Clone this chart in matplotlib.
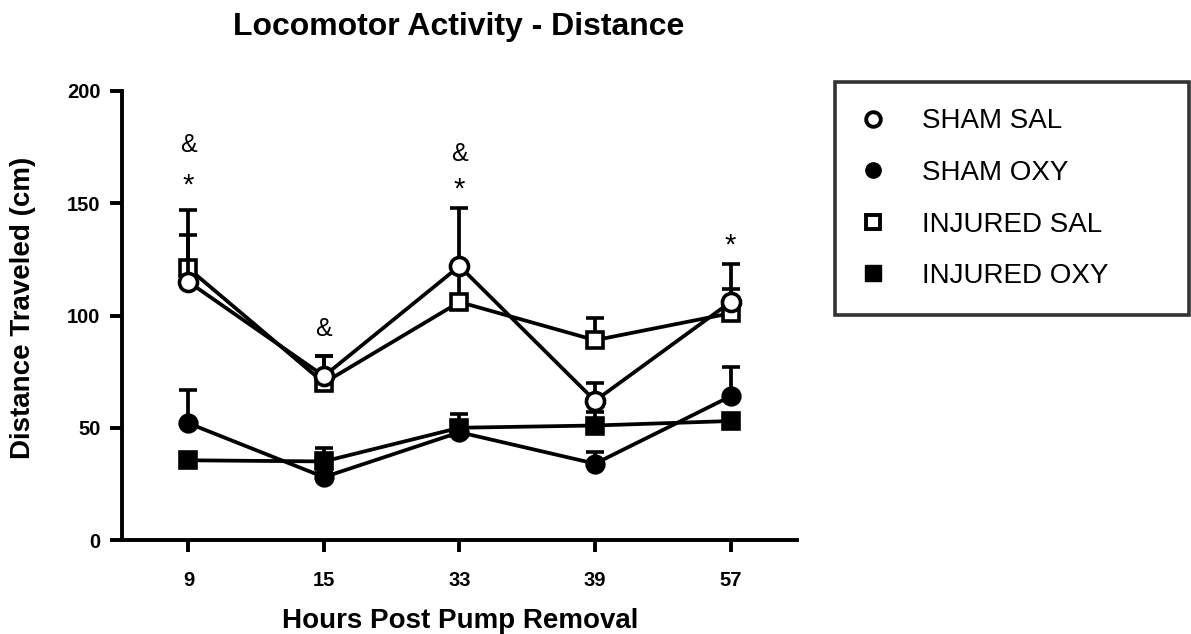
import matplotlib
matplotlib.use("Agg")
import matplotlib.pyplot as plt
from matplotlib.lines import Line2D
from matplotlib import font_manager

avail = {f.name for f in font_manager.fontManager.ttflist}
FAM = "Liberation Sans" if "Liberation Sans" in avail else "DejaVu Sans"
plt.rcParams['font.family'] = [FAM, 'DejaVu Sans']

# ---- data ----
categories = ['9', '15', '33', '39', '57']
sham_sal = [115, 73, 122, 62, 106]
sham_sal_err = [21, 9, 26, 8, 17]
sham_oxy = [52, 28, 48, 34, 64]
sham_oxy_err = [15, 2, 3, 5, 13]
inj_sal = [121, 70, 106, 89, 101]
inj_sal_err = [26, 12, 15, 10, 11]
inj_oxy = [35.5, 35, 50, 51, 53]
inj_oxy_err = [0, 6, 6, 6, 0]
series_labels = ['SHAM SAL', 'SHAM OXY', 'INJURED SAL', 'INJURED OXY']

ann_idx = [0, 0, 1, 2, 2, 4]
ann_y = [176, 158, 94, 172, 156, 131]
ann_text = ['&', '*', '&', '&', '*', '*']

W, H = 1191, 634
fig = plt.figure(figsize=(W / 100, H / 100), dpi=100)
ax = fig.add_axes([122 / W, 1 - 540 / H, (797 - 122) / W, (540 - 91) / H])

x = list(range(len(categories)))
LW = 2.7
common = dict(color='black', lw=LW, capsize=6.5, capthick=LW, elinewidth=LW,
              mew=2.6, clip_on=False)

def draw(vals, errs, marker, filled, ms, z):
    lower = [0] * len(errs)
    ax.errorbar(x, vals, yerr=[lower, errs], marker=marker, ms=ms,
                mfc='black' if filled else 'white', mec='black', zorder=z, **common)

draw(inj_oxy, inj_oxy_err, 's', True, 12, 3)
draw(sham_oxy, sham_oxy_err, 'o', True, 12, 4)
draw(inj_sal, inj_sal_err, 's', False, 12, 5)
draw(sham_sal, sham_sal_err, 'o', False, 13, 6)

for i, yv, t in zip(ann_idx, ann_y, ann_text):
    ax.text(x[i], yv, t, ha='center', va='center',
            fontsize=21 if t == '*' else 18, color='black')

ax.set_xlim(-0.49, 4.49)
ax.set_ylim(0, 200)
ax.set_yticks([0, 50, 100, 150, 200])
ax.set_xticks(x)
ax.set_xticklabels(categories)
for s in ['top', 'right']:
    ax.spines[s].set_visible(False)
for s in ['left', 'bottom']:
    ax.spines[s].set_linewidth(2.8)
ax.tick_params(axis='both', direction='out', length=8.5, width=2.8, labelsize=14.5)
ax.tick_params(axis='x', pad=14)
ax.tick_params(axis='y', pad=7)
for lab in ax.get_xticklabels() + ax.get_yticklabels():
    lab.set_fontweight('bold')

fig.text(459 / W, 1 - 27 / H, 'Locomotor Activity - Distance', ha='center', va='center',
         fontsize=23, fontweight='bold')
fig.text(460 / W, 1 - 621 / H, 'Hours Post Pump Removal', ha='center', va='center',
         fontsize=20, fontweight='bold')
fig.text(23 / W, 1 - 308 / H, 'Distance Traveled (cm)', ha='center', va='center',
         fontsize=20, fontweight='bold', rotation=90)

handles = [
    Line2D([], [], ls='none', marker='o', ms=10.5, mfc='white', mec='black', mew=2.8),
    Line2D([], [], ls='none', marker='o', ms=11, mfc='black', mec='black'),
    Line2D([], [], ls='none', marker='s', ms=10.5, mfc='white', mec='black', mew=2.8),
    Line2D([], [], ls='none', marker='s', ms=11, mfc='black', mec='black'),
]
leg = fig.legend(handles, series_labels, loc='upper left', mode='expand',
                 bbox_to_anchor=(835 / W, 1 - 313 / H, (1189 - 835) / W, (313 - 82) / H),
                 frameon=True, fancybox=False,
                 fontsize=20, handlelength=0.8, handletextpad=1.4, labelspacing=0.92,
                 borderpad=0.95, borderaxespad=0)
leg.get_frame().set_edgecolor('black')
leg.get_frame().set_linewidth(2.6)

fig.savefig('out.png', dpi=100)
